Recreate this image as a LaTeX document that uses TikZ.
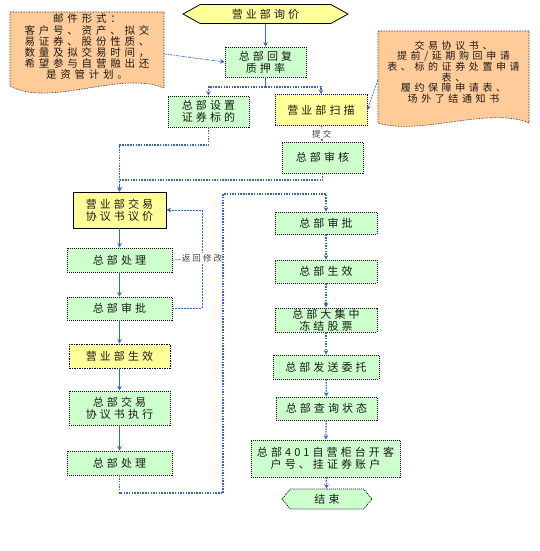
\documentclass[tikz,border=0pt]{standalone}
\usepackage{fontspec}
\usepackage{tikz}
\usetikzlibrary{arrows.meta}
\usetikzlibrary{shapes.symbols}
\newfontfamily\cjk[LetterSpace=28]{Noto Sans CJK SC}
\newfontfamily\cjknote[LetterSpace=36]{Noto Sans CJK SC}
\newfontfamily\cjksmall[LetterSpace=25]{Noto Sans CJK SC}
\definecolor{ColGreen}{RGB}{204,255,204}
\definecolor{ColYellow}{RGB}{255,255,153}
\definecolor{ColOrange}{RGB}{255,204,153}
\definecolor{ColBlue}{RGB}{51,102,204}
\tikzstyle{NodeBase}=[rectangle,inner sep=1pt,align=center,text=black!90,
font=\cjk\fontsize{11}{12}\selectfont]
\tikzstyle{NodeGreen}=[NodeBase,fill=ColGreen,draw=black,dash pattern=on 1pt off 1pt,thick]
\tikzstyle{NodeYellow}=[NodeBase,fill=ColYellow,draw=black,thick]
\tikzstyle{NodeEnds}=[NodeBase,signal,signal to=west and east,draw=black,thick]
\tikzstyle{NoteText}=[NodeBase,inner sep=0pt,font=\cjknote\fontsize{10.5}{11.2}\selectfont]
\tikzstyle{NoteShape}=[fill=ColOrange,draw=black,densely dotted,semithick]
\tikzstyle{EdgeSolid}=[ColBlue,semithick,-{Stealth[length=4.5pt,width=4.5pt]}]
\tikzstyle{EdgeDot}=[ColBlue,line width=1.3pt,dash pattern=on 1.5pt off 1.2pt]
\tikzstyle{EdgeDash}=[ColBlue,semithick,dash pattern=on 2pt off 1pt]
\tikzstyle{EdgeLabel}=[fill=white,inner sep=1pt,text=black!75,
font=\cjksmall\fontsize{8.5}{9}\selectfont]
\tikzstyle{Tip}=[-{Stealth[length=4.5pt,width=4.5pt]}]

\begin{document}
\begin{tikzpicture}[x=1pt,y=-1pt]
        \fill[white](0,0)rectangle(539,551);
        \useasboundingbox(0,0)rectangle(539,551);
        \draw[NoteShape](10,12)--(164,12)--(164,88)..controls(120,70)and(50,108)..(10,86)--cycle;
        \draw[NoteShape](378,31)--(529,31)--(529,123)..controls(490,106)and(420,136)..(378,123)--cycle;
        \node[NoteText,minimum width=154,minimum height=66](mailnote)at(87,47){邮件形式：\\客户号、资产、拟交\\易证券、股份性质、\\数量及拟交易时间，\\希望参与自营融出还\\是资管计划。};
        \node[NoteText,minimum width=151,minimum height=82,font=\cjknote\fontsize{10}{10.6}\selectfont](formsnote)at(453.5,72){交易协议书、\\提前/延期购回申请\\表、标的证券处置申请\\表、\\履约保障申请表、\\场外了结通知书};
        \node[NodeEnds,fill=ColYellow,minimum width=165,minimum height=19,signal pointer angle=58](ask)at(265.5,14){营业部询价};
        \node[NodeGreen,minimum width=81,minimum height=30](reply)at(265.5,62){总部回复\\质押率};
        \node[NodeGreen,minimum width=81,minimum height=31](setup)at(208.5,111.5){总部设置\\证券标的};
        \node[NodeYellow,dash pattern=on 1pt off 1pt,minimum width=92,minimum height=31](scan)at(321,110){营业部扫描};
        \node[NodeGreen,minimum width=81,minimum height=31](check)at(322.5,157.5){总部审核};
        \node[NodeYellow,minimum width=93,minimum height=36](trade)at(119.5,210){营业部交易\\协议书议价};
        \node[NodeGreen,minimum width=105,minimum height=24](procA)at(119.5,260){总部处理};
        \node[NodeGreen,minimum width=105,minimum height=23](apprA)at(119.5,308.5){总部审批};
        \node[NodeYellow,dash pattern=on 1.5pt off 1pt,minimum width=101,minimum height=24](effect)at(119.5,356){营业部生效};
        \node[NodeGreen,minimum width=101,minimum height=34](exec)at(119.5,408){总部交易\\协议书执行};
        \node[NodeGreen,minimum width=105,minimum height=24](procB)at(119.5,463){总部处理};
        \node[NodeGreen,minimum width=102,minimum height=22](apprB)at(326,223){总部审批};
        \node[NodeGreen,minimum width=102,minimum height=23](valid)at(326,271.5){总部生效};
        \node[NodeGreen,minimum width=102,minimum height=24](freeze)at(326,320){总部大集中\\冻结股票};
        \node[NodeGreen,minimum width=106,minimum height=24](send)at(326,367){总部发送委托};
        \node[NodeGreen,minimum width=101,minimum height=23](query)at(326.5,408.5){总部查询状态};
        \node[NodeGreen,minimum width=149,minimum height=37](open)at(325.5,458.5){总部401自营柜台开客\\户号、挂证券账户};
        \node[NodeEnds,fill=ColGreen,dash pattern=on 1pt off 1pt,minimum width=90,minimum height=20,signal pointer angle=100](finish)at(327,499){结束};
        \coordinate(split)at(265.5,87);
        \coordinate(setupturn)at(119.5,145);
        \coordinate(checkturn)at(322.5,180);
        \coordinate(backA)at(202,258);
        \coordinate(backB)at(202,308.5);
        \coordinate(loopA)at(223,493);
        \coordinate(loopB)at(223,194);
        \draw[EdgeSolid](ask)--(reply);
        \draw[EdgeDash,dash pattern=on 3pt off 1pt on 1pt off 1pt,Tip]([yshift=-7pt]mailnote.east)--(reply.west);
        \draw[ColBlue,semithick](reply.south)--(split);
        \draw[EdgeDot,Tip](split)-|(setup.north);
        \draw[EdgeDot,Tip](split)-|(scan.north);
        \draw[EdgeDash,Tip]([yshift=-8pt]formsnote.west)--(scan.east);
        \draw[EdgeDot,Tip](scan)--node[EdgeLabel]{提交}(check);
        \draw[EdgeDot,Tip](setup.south)|-(setupturn)--(trade.north);
        \draw[EdgeDot,Tip](check.south)--(checkturn)-|(trade.north);
        \draw[EdgeSolid](trade)--(procA);
        \draw[EdgeSolid](procA)--(apprA);
        \draw[EdgeSolid](apprA)--(effect);
        \draw[EdgeSolid](effect)--(exec);
        \draw[EdgeSolid](exec)--(procB);
        \draw[EdgeDash,Tip](apprA.east)--(backB)|-(trade.east);
        \draw[EdgeDash](procA.east)--(backA);
        \node[EdgeLabel](backtext)at(backA){返回修改};
        \draw[EdgeDot,Tip](procB.south)|-(loopA)--(loopB)-|(apprB.north);
        \draw[EdgeDot,Tip](apprB)--(valid);
        \draw[EdgeDot,Tip](valid)--(freeze);
        \draw[EdgeDot,Tip](freeze)--(send);
        \draw[EdgeDot,Tip](send)--(query);
        \draw[EdgeDot,Tip](query)--(open);
        \draw[EdgeDot,Tip](open)--(finish);
    \end{tikzpicture}
\end{document}
